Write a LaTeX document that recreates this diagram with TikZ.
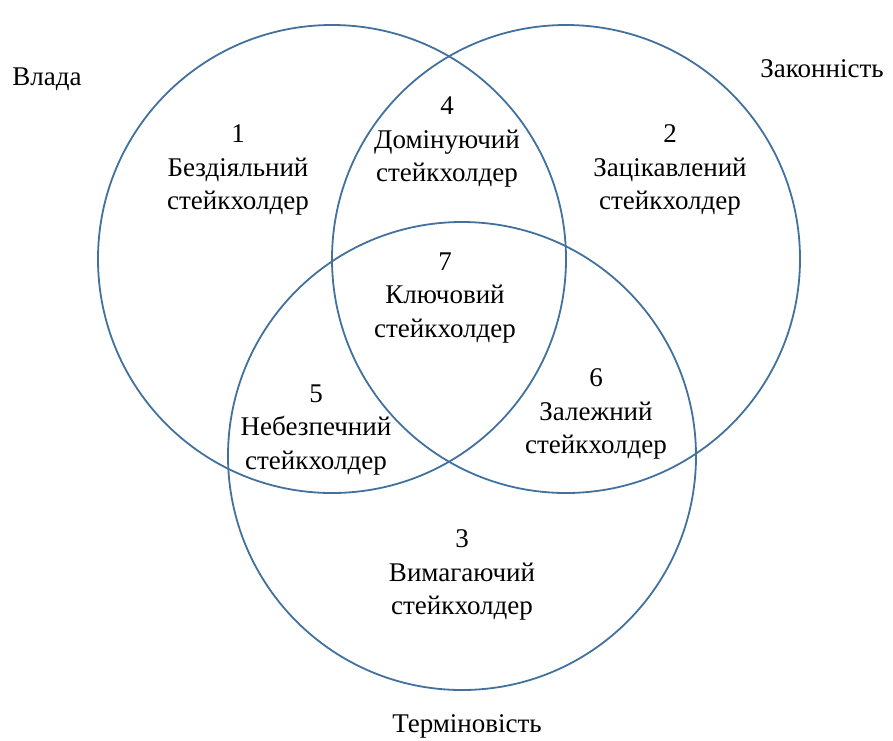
\documentclass[tikz,border=0pt]{standalone}
\usepackage{fontspec}
\setmainfont{LiberationSerif}[Extension=.ttf, UprightFont=*-Regular, BoldFont=*-Bold]
\usepackage{xcolor}
\definecolor{ringblue}{HTML}{41719C}

\begin{document}
\begin{tikzpicture}[x=1pt, y=-1pt,
        ring/.style={draw=ringblue, line width=1.8pt},
        zone/.style={align=center, inner sep=0pt, font=\fontsize{27}{33.5}\selectfont},
        setname/.style={inner sep=0pt, font=\fontsize{27}{30}\selectfont}]
            \useasboundingbox (0,0) rectangle (893,740);
            % three circles
            \draw[ring] (332,259) circle (234);
            \draw[ring] (566,259) circle (234);
            \draw[ring] (462,456) circle (234);

            % set names
            \node[setname] (vlada) at (47,79) {Влада};
            \node[setname] (zakon) at (822,69) {Законність};
            \node[setname] (termin) at (467,726) {Терміновість};

            % zones
            \node[zone] (z1) at (238,170) {1\\Бездіяльний\\стейкхолдер};
            \node[zone] (z2) at (670,170) {2\\Зацікавлений\\стейкхолдер};
            \node[zone] (z3) at (462,575) {3\\Вимагаючий\\стейкхолдер};
            \node[zone] (z4) at (447,142) {4\\Домінуючий\\стейкхолдер};
            \node[zone] (z5) at (316,430) {5\\Небезпечний\\стейкхолдер};
            \node[zone] (z6) at (596,414) {6\\Залежний\\стейкхолдер};
            \node[zone] (z7) at (445,298) {7\\Ключовий\\стейкхолдер};
        \end{tikzpicture}
\end{document}
